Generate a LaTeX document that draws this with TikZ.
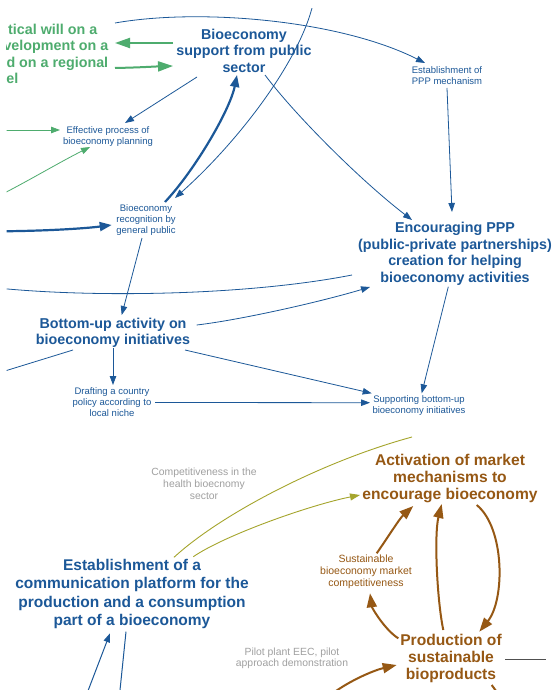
\documentclass[tikz,border=0pt]{standalone}
\usepackage{fontspec}
\setmainfont{Liberation Sans}
\usetikzlibrary{arrows.meta}

\definecolor{vblue}{RGB}{28,88,152}
\definecolor{vgreen}{RGB}{78,172,110}
\definecolor{vbrown}{RGB}{150,88,20}
\definecolor{volive}{RGB}{165,165,45}
\definecolor{vgray}{RGB}{160,160,160}
\definecolor{vdark}{RGB}{80,80,80}

\tikzset{
  bigblue/.style={font=\bfseries\fontsize{14.3}{16.5}\selectfont, text=vblue, align=center, inner sep=0pt},
  bigblueL/.style={font=\bfseries\fontsize{15.5}{18.3}\selectfont, text=vblue, align=center, inner sep=0pt},
  smallblue/.style={font=\fontsize{9.5}{11}\selectfont, text=vblue, align=center, inner sep=0pt},
  bigbrown/.style={font=\bfseries\fontsize{15.6}{16.9}\selectfont, text=vbrown, align=center, inner sep=0pt},
  smallbrown/.style={font=\fontsize{10.5}{12}\selectfont, text=vbrown, align=center, inner sep=0pt},
  grtext/.style={font=\fontsize{10.4}{11.8}\selectfont, text=vgray, align=center, inner sep=0pt},
  greentext/.style={font=\bfseries\fontsize{14.3}{16.5}\selectfont, text=vgreen, align=left, inner sep=0pt},
  thinb/.style={draw=vblue, line width=0.8pt, -{Triangle[length=9pt,width=6.5pt]}},
  thinbline/.style={draw=vblue, line width=0.8pt},
  thickb/.style={draw=vblue, line width=2.2pt, -{Triangle[length=12pt,width=9pt]}},
  thickg/.style={draw=vgreen, line width=2pt, -{Triangle[length=15pt,width=10pt]}},
  thing/.style={draw=vgreen, line width=0.8pt, -{Triangle[length=9pt,width=6.5pt]}},
  thickbr/.style={draw=vbrown, line width=2pt, -{Triangle[length=14pt,width=10pt]}},
  olivearr/.style={draw=volive, line width=0.9pt, -{Triangle[length=10pt,width=7pt]}},
  oliveline/.style={draw=volive, line width=0.9pt},
}

\begin{document}
\begin{tikzpicture}[x=1pt,y=-1pt]
\useasboundingbox (0,0) rectangle (552,690);
\fill[white] (0,0) rectangle (552,690);
\clip (6.5,9) rectangle (552,690);

% ---- variables ----
\node[greentext, anchor=west] (pol) at (3.3,54)
  {\hspace*{4.7pt}tical will on a\\velopment on a\\\hspace*{3pt}d on a regional\\\hspace*{2.8pt}el};
\node[bigblue] (sup) at (244,50.5) {Bioeconomy\\support from public\\sector};
\node[smallblue] (mech) at (447,76) {Establishment of\\PPP mechanism};
\node[smallblue] (eff) at (108,137) {Effective process of\\bioeconomy planning};
\node[smallblue] (rec) at (146,220.5) {Bioeconomy\\recognition by\\general public};
\node[bigblue] (ppp) at (455,254) {Encouraging PPP\\(public-private partnerships)\\creation for helping\\bioeconomy activities};
\node[bigblue] (bot) at (113,333) {Bottom-up activity on\\bioeconomy initiatives};
\node[smallblue] (draft) at (112,402.5) {Drafting a country\\policy according to\\local niche};
\node[smallblue] (supb) at (419,405.5) {Supporting bottom-up\\bioeconomy initiatives};
\node[grtext] (comp) at (204,483.5) {Competitiveness in the\\health bioecnomy\\sector};
\node[bigbrown] (act) at (450,478.5) {Activation of market\\mechanisms to\\encourage bioeconomy};
\node[smallbrown] (smc) at (366,572) {Sustainable\\bioeconomy market\\competitiveness};
\node[bigblueL] (plat) at (132,594) {Establishment of a\\communication platform for the\\production and a consumption\\part of a bioeconomy};
\node[bigbrown] (prod) at (451,658.5) {Production of\\sustainable\\bioproducts};
\node[grtext, font=\fontsize{10.4}{11}\selectfont] (pilot) at (292,658) {Pilot plant EEC, pilot\\approach demonstration};

% ---- loose ends of links leaving the view ----
\coordinate (topin) at (313,4);
\coordinate (gl1) at (0,130);
\coordinate (gl2) at (0,195.3);
\coordinate (bl1) at (0,231.3);
\coordinate (ol1) at (0,288.3);
\coordinate (ol2) at (0,372.5);
\coordinate (oend) at (412,437);
\coordinate (bin) at (330.5,695);
\coordinate (bout) at (499,695);
\coordinate (gout) at (546,659.5);
\coordinate (pin) at (86.4,695);
\coordinate (pout) at (119.5,695);

% ---- green links ----
\draw[thickg] ([shift={(-71,-7.5)}]sup.center) -- ([shift={(111.7,-11)}]pol.west);
\draw[thickg] ([shift={(111.7,14)}]pol.west) .. controls (140,67.5) and (155,66.5) .. ([shift={(-71,15.5)}]sup.center);
\draw[thing] (gl1) -- ([shift={(-48,-7)}]eff.center);
\draw[thing] (gl2) .. controls (30,180) and (60,162) .. ([shift={(-18,10)}]eff.center);

% ---- blue links, upper part ----
\draw[thinb] ([shift={(111.7,-31)}]pol.west) .. controls (200,8) and (340,20) .. ([shift={(-22,-13)}]mech.center);
\draw[thinb] ([shift={(0,12)}]mech.center) -- ([shift={(-3,-42)}]ppp.center);
\draw[thinb] (topin) .. controls (300,60) and (240,140) .. ([shift={(29,-22.5)}]rec.center);
\draw[thickb] ([shift={(19,-18.5)}]rec.center) .. controls (195,170) and (230,110) .. ([shift={(-7,24.5)}]sup.center);
\draw[thinb] ([shift={(21,24.5)}]sup.center) .. controls (295,115) and (360,180) .. ([shift={(-43,-34)}]ppp.center);
\draw[thinb] ([shift={(-47,26.5)}]sup.center) -- ([shift={(17,-14)}]eff.center);
\draw[thickb] (bl1) .. controls (45,231) and (85,228.5) .. ([shift={(-34.3,4.5)}]rec.center);
\draw[thinb] ([shift={(-4,17.5)}]rec.center) -- ([shift={(8.7,-18)}]bot.center);

% ---- blue links, middle part ----
\draw[thinbline] ([shift={(-103,21)}]ppp.center) .. controls (250,295) and (100,298) .. (ol1);
\draw[thinb] ([shift={(83.7,-8)}]bot.center) .. controls (240,320) and (320,302) .. ([shift={(-85,33)}]ppp.center);
\draw[thinbline] ([shift={(-40,17)}]bot.center) -- (ol2);
\draw[thinb] ([shift={(0,15.3)}]bot.center) -- ([shift={(1,-17.5)}]draft.center);
\draw[thinb] ([shift={(72,17)}]bot.center) -- ([shift={(-47.3,-12.2)}]supb.center);
\draw[thinb] ([shift={(43,0)}]draft.center) -- ([shift={(-49,-2.8)}]supb.center);
\draw[thinb] ([shift={(-6.7,32.7)}]ppp.center) -- ([shift={(2.7,-12.2)}]supb.center);

% ---- olive links ----
\draw[oliveline] ([shift={(42,-36.7)}]plat.center) .. controls (220,515) and (320,462) .. (oend);
\draw[olivearr] ([shift={(61.3,-37.3)}]plat.center) .. controls (225,535) and (310,505) .. ([shift={(-90,16.5)}]act.center);

% ---- brown loop ----
\draw[thickbr] ([shift={(10.7,-18.7)}]smc.center) .. controls (388,537) and (400,518) .. ([shift={(-36.7,27.5)}]act.center);
\draw[thickbr] ([shift={(-52.7,-20.2)}]prod.center) .. controls (385,630) and (372,608) .. ([shift={(4,21.3)}]smc.center);
\draw[thickbr] ([shift={(-7.7,-28.5)}]prod.center) .. controls (437,600) and (434,535) .. ([shift={(-8.3,25.5)}]act.center);
\draw[thickbr] ([shift={(26.7,26.5)}]act.center) .. controls (505,528) and (505,600) .. ([shift={(28.3,-26.8)}]prod.center);
\draw[thickbr] (bin) .. controls (350,680) and (375,670) .. ([shift={(-54.3,6.5)}]prod.center);
\draw[draw=vbrown, line width=2pt] ([shift={(40.7,26.5)}]prod.center) -- (bout);
\draw[draw=vdark, line width=0.9pt] ([shift={(54,1)}]prod.center) -- (gout);

% ---- blue links, lower part ----
\draw[thinb, line width=1pt] (pin) -- ([shift={(-22,39.3)}]plat.center);
\draw[thinbline, line width=1pt] ([shift={(-6,37.7)}]plat.center) -- (pout);
\end{tikzpicture}
\end{document}
